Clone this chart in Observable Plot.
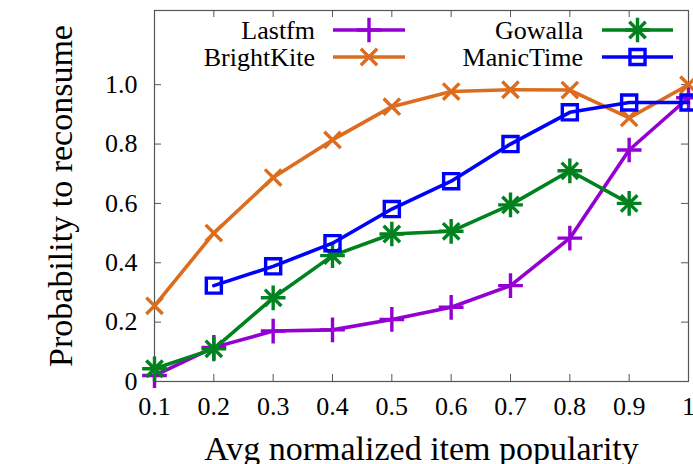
<!DOCTYPE html>
<html>
<head>
<meta charset="utf-8">
<script src="https://cdn.jsdelivr.net/npm/d3@7"></script>
<script src="https://cdn.jsdelivr.net/npm/@observablehq/plot@0.6"></script>
<style>
  html, body { margin: 0; padding: 0; background: #fff; }
  #chart svg { display: block; }
</style>
</head>
<body>
<div id="chart"></div>
<script>
// ---- data ----
const popularity = [0.1, 0.2, 0.3, 0.4, 0.5, 0.6, 0.7, 0.8, 0.9, 1.0];
const lastfm     = [0.02, 0.115, 0.17, 0.174, 0.209, 0.25, 0.323, 0.483, 0.78, 0.956];
const brightkite = [0.255, 0.50, 0.687, 0.814, 0.926, 0.977, 0.983, 0.982, 0.888, 1.0];
const gowalla    = [0.043, 0.11, 0.282, 0.424, 0.497, 0.506, 0.595, 0.71, 0.60, null];
const manictime  = [null, 0.323, 0.388, 0.466, 0.581, 0.675, 0.80, 0.907, 0.94, 0.94];
const seriesNames = ["Lastfm", "BrightKite", "Gowalla", "ManicTime"];
const xTicks = [0.1, 0.2, 0.3, 0.4, 0.5, 0.6, 0.7, 0.8, 0.9, 1.0];
const yTicks = [0, 0.2, 0.4, 0.6, 0.8, 1.0];
const xLabel = "Avg normalized item popularity";
const yLabel = "Probability to reconsume";

// ---- styles ----
const colors = {Lastfm: "#9400d3", BrightKite: "#dc6d1f", Gowalla: "#00821e", ManicTime: "#0000ff"};
const symbols = {Lastfm: ["plus"], BrightKite: ["times"], Gowalla: ["plus", "times"], ManicTime: ["square"]};
const radius = {plus: 8, times: 7.5, square: 8.5};

const valuesBySeries = {Lastfm: lastfm, BrightKite: brightkite, Gowalla: gowalla, ManicTime: manictime};
const rows = seriesNames.flatMap(name =>
  popularity.map((x, i) => ({series: name, x, y: valuesBySeries[name][i]})).filter(d => d.y != null)
);

const W = 693, H = 464;
const mL = 154, mR = 5, mT = 10, mB = 83;
const innerW = W - mL - mR, innerH = H - mT - mB;
const tickLen = 7;
const frameColor = "#555";

const drawOrder = ["Lastfm", "BrightKite", "Gowalla", "ManicTime"];
const seriesMarks = drawOrder.flatMap(name => {
  const d = rows.filter(r => r.series === name);
  return [
    Plot.line(d, {x: "x", y: "y", stroke: colors[name], strokeWidth: 3.6}),
    ...symbols[name].map(s => Plot.dot(d, {x: "x", y: "y", symbol: s, r: radius[s], stroke: colors[name], strokeWidth: 3.4, fill: "none"}))
  ];
});

const chart = Plot.plot({
  width: W,
  height: H,
  marginLeft: mL,
  marginRight: mR,
  marginTop: mT,
  marginBottom: mB,
  style: {fontFamily: "'Liberation Serif', 'DejaVu Serif', serif", fontSize: "26px", background: "#fff", color: "#000"},
  x: {domain: [0.1, 1.0]},
  y: {domain: [0, 1.25]},
  marks: [
    Plot.axisX(xTicks, {tickSize: 0, tickPadding: 15, fontSize: 26, label: null,
      tickFormat: d => d === 1 ? "1" : d.toFixed(1)}),
    Plot.axisY(yTicks, {tickSize: 0, tickPadding: 17, fontSize: 26, label: null,
      tickFormat: d => d === 0 ? "0" : d.toFixed(1)}),
    // inward mirrored ticks
    Plot.tickX(xTicks, {x: d => d, insetTop: innerH - tickLen, stroke: frameColor, strokeWidth: 1}),
    Plot.tickX(xTicks, {x: d => d, insetBottom: innerH - tickLen, stroke: frameColor, strokeWidth: 1}),
    Plot.tickY(yTicks, {y: d => d, insetRight: innerW - tickLen, stroke: frameColor, strokeWidth: 1}),
    Plot.tickY(yTicks, {y: d => d, insetLeft: innerW - tickLen, stroke: frameColor, strokeWidth: 1}),
    Plot.frame({stroke: frameColor, strokeWidth: 1.2}),
    ...seriesMarks,
    Plot.text([xLabel], {text: d => d, frameAnchor: "bottom", textAnchor: "middle", dy: 78, fontSize: 34, fill: "#000"}),
    Plot.text([yLabel], {text: d => d, frameAnchor: "left", textAnchor: "middle", rotate: -90, dx: -93, fontSize: 34, fill: "#000"})
  ]
});

// ---- legend (two columns inside the plot, top) ----
const svg = d3.select(chart);
const legendLayout = [
  {name: "Lastfm",     textX: 315, x1: 333, x2: 405, y: 30},
  {name: "BrightKite", textX: 315, x1: 333, x2: 405, y: 57},
  {name: "Gowalla",    textX: 583, x1: 602, x2: 673, y: 30},
  {name: "ManicTime",  textX: 583, x1: 602, x2: 673, y: 57}
];
const symMap = {plus: d3.symbolPlus, times: d3.symbolTimes, square: d3.symbolSquare};
const g = svg.append("g").attr("class", "legend");
legendLayout.forEach(L => {
  g.append("text")
    .attr("x", L.textX).attr("y", L.y).attr("dy", "0.33em")
    .attr("text-anchor", "end")
    .attr("font-family", "'Liberation Serif', serif")
    .attr("font-size", 26).attr("fill", "#000")
    .text(L.name);
  g.append("line")
    .attr("x1", L.x1).attr("x2", L.x2).attr("y1", L.y).attr("y2", L.y)
    .attr("stroke", colors[L.name]).attr("stroke-width", 3.6);
  symbols[L.name].forEach(s => {
    const r = radius[s];
    g.append("path")
      .attr("transform", `translate(${(L.x1 + L.x2) / 2},${L.y})`)
      .attr("d", d3.symbol(symMap[s], Math.PI * r * r)())
      .attr("fill", "none").attr("stroke", colors[L.name]).attr("stroke-width", 3.4);
  });
});

document.getElementById("chart").appendChild(chart);
</script>
</body>
</html>
